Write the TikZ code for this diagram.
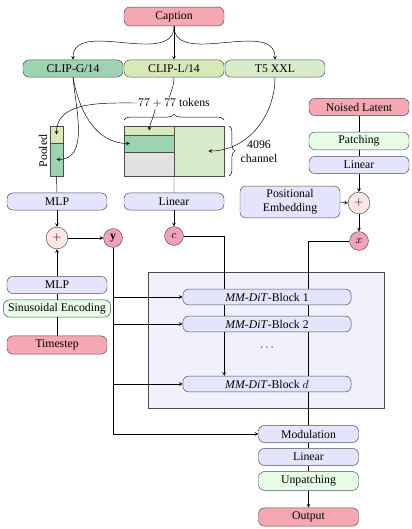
\documentclass[tikz,border=0pt]{standalone}
\usepackage{fontspec}
\setmainfont{Liberation Serif}
\usepackage{tikz}
\usetikzlibrary{positioning,decorations.pathreplacing,backgrounds}

\definecolor{capred}{RGB}{245,168,178}
\definecolor{clipg}{RGB}{158,211,178}
\definecolor{clipl}{RGB}{214,233,182}
\definecolor{tfive}{RGB}{216,236,204}
\definecolor{lav}{RGB}{228,228,252}
\definecolor{mint}{RGB}{230,252,230}
\definecolor{oppink}{RGB}{253,230,230}
\definecolor{varpink}{RGB}{241,160,192}
\definecolor{ditbg}{RGB}{241,241,253}
\definecolor{padgray}{RGB}{226,226,226}

\begin{document}
\begin{tikzpicture}[%
  x=0.85pt,y=-0.85pt,>=stealth,
  box/.style={draw=black!70,rounded corners=5pt,minimum width=85pt,minimum height=14.5pt,inner sep=1pt},
  inp/.style={box,fill=capred},
  emb/.style={box,fill=lav},
  enc/.style={box,fill=mint},
  blk/.style={box,fill=lav,minimum width=143pt,minimum height=13.5pt},
  cell/.style={draw=black!70,inner sep=0pt,outer sep=0pt},
  op/.style={circle,draw=black!70,fill=oppink,inner sep=0pt,minimum size=18.5pt},
  var/.style={circle,draw=black!70,fill=varpink,inner sep=0pt,minimum size=16pt},
  desc/.style={inner sep=1pt}
]
\useasboundingbox (0,0) rectangle (411,529);

\node [inp,minimum height=16pt] (cap) at (174,16.5) {Caption};
\node [box,fill=clipg] (clipG) at (73,68.5) {CLIP-G/14};
\node [box,fill=clipl] (clipL) at (174,68.5) {CLIP-L/14};
\node [box,fill=tfive] (tfiveX) at (275,68.5) {T5 XXL};

\node [desc] (toklbl) at (174,103) {$77+77$ tokens};

\node [cell,fill=clipl,minimum width=42.5pt,minimum height=7.65pt] (tokL) at (149,130.5) {};
\node [cell,fill=clipg,minimum width=42.5pt,minimum height=14.45pt,below=0pt of tokL] (tokG) {};
\node [cell,fill=padgray,minimum width=42.5pt,minimum height=20.4pt,below=0pt of tokG] (tokX) {};
\node [cell,fill=tfive,minimum size=42.5pt,anchor=north west] (tokT) at (tokL.north east) {};

\node [cell,fill=clipl,minimum width=11pt,minimum height=14.45pt] (poolL) at (56.5,134.5) {};
\node [cell,fill=clipg,minimum width=11pt,minimum height=28pt,below=0pt of poolL] (poolG) {};
\node [desc,rotate=90] (poollbl) at (43,151) {Pooled};

\draw [decorate,decoration={brace,amplitude=5pt}] (124,120) -- (224,120);
\draw [decorate,decoration={brace,amplitude=5pt}] (229,126) -- (229,176);
\node [desc,align=center] (chlbl) at (259,152) {4096\\channel};

\node [emb] (mlpA) at (57,201.5) {MLP};
\node [emb] (linL) at (174,201.5) {Linear};
\node [inp] (nlat) at (359,107) {Noised Latent};
\node [enc,minimum height=15pt] (patch) at (359,141) {Patching};
\node [emb] (linR) at (359,165) {Linear};
\node [emb,minimum height=27pt,align=center] (posemb) at (290,202) {Positional\\Embedding};

\node [op] (plusA) at (57,238) {$+$};
\node [var] (yv) at (113,238) {$\mathbf{y}$};
\node [var] (cv) at (174,236) {$c$};
\node [op] (plusB) at (359,203) {$+$};
\node [var] (xv) at (359,241) {$x$};

\node [emb] (mlpB) at (57,285) {MLP};
\node [enc,minimum width=91pt] (sin) at (57,308.5) {Sinusoidal Encoding};
\node [inp,minimum height=15.5pt] (tstep) at (57,345) {Timestep};

\node [blk] (blkA) at (267,297) {\textit{MM-DiT}-Block 1};
\node [blk] (blkB) at (267,324) {\textit{MM-DiT}-Block 2};
\node [desc] (dots) at (267,348) {$\cdots$};
\node [blk] (blkD) at (267,384) {\textit{MM-DiT}-Block $d$};

\node [emb] (modul) at (308.5,434) {Modulation};
\node [emb] (linO) at (308.5,457) {Linear};
\node [enc,minimum height=16pt] (unpatch) at (308.5,481) {Unpatching};
\node [inp,minimum height=15.5pt] (outp) at (308.5,517) {Output};

\begin{scope}[on background layer]
  \node [draw=black!70,fill=ditbg,minimum width=200.6pt,minimum height=115.6pt] (dit) at (266,340) {};
  \draw [->] (cv.east) -| (linL.east |- blkD.north);
  \draw (xv.west) -| (modul.north);
\end{scope}

\draw [->] (cap.south) to[out=-90,in=90] (clipG.north);
\draw [->] (cap.south) -- (clipL.north);
\draw [->] (cap.south) to[out=-90,in=90] (tfiveX.north);

\draw (clipL.south) to[out=-90,in=70] ([xshift=-4pt]toklbl.north);
\draw [->] (toklbl.west) to[out=180,in=90] (poolL.center);
\draw [->] ([xshift=-16pt]toklbl.south) to[out=-100,in=80] (tokL.center);
\draw [->] (clipG.south) to[out=-85,in=0] (poolG.center);
\draw [->] (clipG.south) to[out=-80,in=180] ([xshift=5pt]tokG.west);
\draw [->] (tfiveX.south) to[out=-90,in=0] ([xshift=8pt]tokT.center);

\draw (poolG.south) -- (mlpA.north);
\draw (tokT.south west) -- (linL.north);
\draw [->] (mlpA.south) -- (plusA.north);
\draw [->] (plusA.east) -- (yv.west);
\draw [->] (linL.south) -- (cv.north);

\draw (nlat.south) -- (patch.north);
\draw (patch.south) -- (linR.north);
\draw [->] (linR.south) -- (plusB.north);
\draw [->] (posemb.east) -- (plusB.west);
\draw [->] (plusB.south) -- (xv.north);

\draw (tstep.north) -- (sin.south);
\draw (sin.north) -- (mlpB.south);
\draw [->] (mlpB.north) -- (plusA.south);

\draw [->] (yv.south) |- (modul.west);
\draw [->] (yv.south |- blkA.west) -- (blkA.west);
\draw [->] (yv.south |- blkB.west) -- (blkB.west);
\draw [->] (yv.south |- blkD.west) -- (blkD.west);

\draw (modul.south) -- (linO.north);
\draw (linO.south) -- (unpatch.north);
\draw [->] (unpatch.south) -- (outp.north);
\end{tikzpicture}
\end{document}
